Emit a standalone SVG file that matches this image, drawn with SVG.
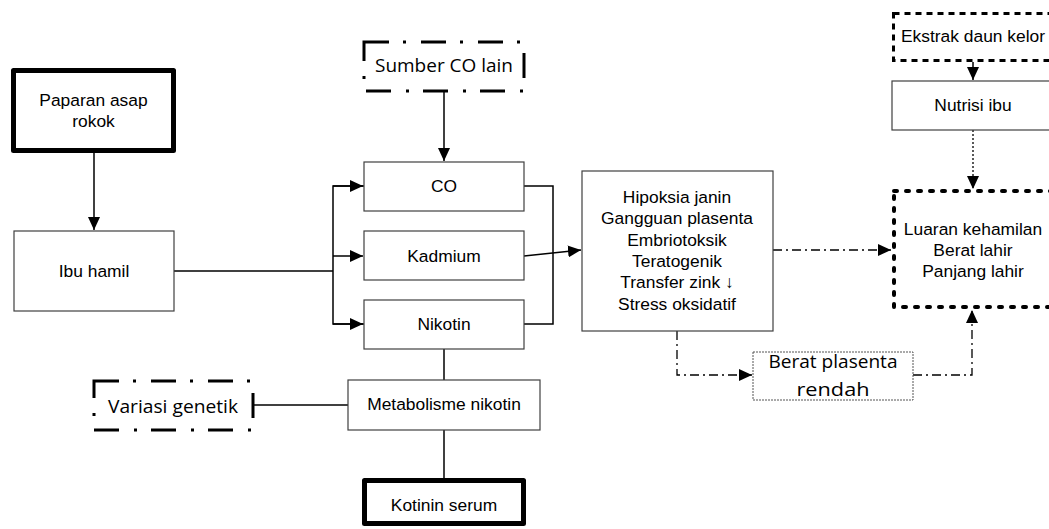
<svg xmlns="http://www.w3.org/2000/svg" width="1049" height="529" viewBox="0 0 1049 529">
<style>
.bg{fill:#fff}
.box{fill:#fff;stroke:#404040;stroke-width:1.2}
.thick{fill:#fff;stroke:#000;stroke-width:5;stroke-linejoin:round}
.dd{fill:#fff;stroke:#000;stroke-width:3;stroke-dasharray:25 14 3 15}
.dash{fill:#fff;stroke:#000;stroke-width:3;stroke-dasharray:6 5}
.dots{fill:#fff;stroke:#000;stroke-width:4;stroke-dasharray:3 9;stroke-linecap:round}
.fine{fill:#fff;stroke:#555;stroke-width:1;stroke-dasharray:2 1}
.t{font-family:"Liberation Sans",Arial,sans-serif;font-size:17.4px;fill:#000;text-anchor:middle}
.c{font-family:"Open Sans",sans-serif;font-size:19px;fill:#000;text-anchor:middle}
.ln{fill:none;stroke:#000;stroke-width:1.5}
.ldd{fill:none;stroke:#000;stroke-width:1.3;stroke-dasharray:9 4 2 4}
.ldot{fill:none;stroke:#000;stroke-width:1.3;stroke-dasharray:2 2}
</style>
<defs>
<marker id="ah" markerUnits="userSpaceOnUse" markerWidth="14" markerHeight="12" refX="13" refY="6" orient="auto">
<path d="M0,0 L13,6 L0,12 Z" fill="#000"/>
</marker>
</defs>
<rect class="bg" x="0" y="0" width="1049" height="529"/>

<g id="connectors">
<line class="ln" x1="94" y1="153" x2="94" y2="230" marker-end="url(#ah)"/>
<polyline class="ln" points="174,271 333,271"/>
<polyline class="ln" points="364,186 333,186 333,324 364,324" />
<line class="ln" x1="333" y1="186" x2="363" y2="186" marker-end="url(#ah)"/>
<line class="ln" x1="333" y1="256" x2="363" y2="256" marker-end="url(#ah)"/>
<line class="ln" x1="333" y1="324" x2="363" y2="324" marker-end="url(#ah)"/>
<polyline class="ln" points="524,186 553,186 553,324 524,324"/>
<line class="ln" x1="524" y1="256" x2="581" y2="250" marker-end="url(#ah)"/>
<line class="ln" x1="444" y1="92" x2="444" y2="161" marker-end="url(#ah)"/>
<line class="ldd" x1="773" y1="250" x2="891" y2="250" marker-end="url(#ah)"/>
<polyline class="ldd" points="677,331 677,375 752,375" marker-end="url(#ah)"/>
<polyline class="ldd" points="913,375 972,375 972,310" marker-end="url(#ah)"/>
<line class="ln" x1="973" y1="62" x2="973" y2="80" marker-end="url(#ah)"/>
<line class="ldot" x1="973" y1="130" x2="973" y2="189" marker-end="url(#ah)"/>
<line class="ln" x1="444" y1="349" x2="444" y2="380"/>
<line class="ln" x1="254" y1="405" x2="348" y2="405"/>
<line class="ln" x1="444" y1="430" x2="444" y2="478"/>
</g>

<g id="paparan">
<rect class="thick" x="13.5" y="70.5" width="160" height="80"/>
<text class="t" x="93.5" y="106">Paparan asap</text>
<text class="t" x="93.5" y="127">rokok</text>
</g>
<g id="ibu-hamil">
<rect class="box" x="14" y="231" width="160" height="80"/>
<text class="t" x="94" y="277">Ibu hamil</text>
</g>
<g id="sumber-co">
<rect class="dd" x="364" y="42" width="160" height="49"/>
<text class="c" x="444" y="72" textLength="138" lengthAdjust="spacingAndGlyphs">Sumber CO lain</text>
</g>
<g id="co">
<rect class="box" x="364" y="162" width="160" height="49"/>
<text class="t" x="444" y="192">CO</text>
</g>
<g id="kadmium">
<rect class="box" x="364" y="231" width="160" height="49"/>
<text class="t" x="444" y="262">Kadmium</text>
</g>
<g id="nikotin">
<rect class="box" x="364" y="300" width="160" height="49"/>
<text class="t" x="444" y="330">Nikotin</text>
</g>
<g id="metabolisme">
<rect class="box" x="348" y="380" width="192" height="50"/>
<text class="t" x="444" y="410">Metabolisme nikotin</text>
</g>
<g id="variasi">
<rect class="dd" x="94" y="381" width="159" height="49"/>
<text class="c" x="173" y="413" textLength="130" lengthAdjust="spacingAndGlyphs">Variasi genetik</text>
</g>
<g id="kotinin">
<rect class="thick" x="364.5" y="480.5" width="159" height="43"/>
<text class="t" x="444" y="511">Kotinin serum</text>
</g>
<g id="hipoksia">
<rect class="box" x="582" y="171" width="191" height="160"/>
<text class="t" x="677" y="203">Hipoksia janin</text>
<text class="t" x="677" y="224">Gangguan plasenta</text>
<text class="t" x="677" y="246">Embriotoksik</text>
<text class="t" x="677" y="267">Teratogenik</text>
<text class="t" x="677" y="288">Transfer zink ↓</text>
<text class="t" x="677" y="310">Stress oksidatif</text>
</g>
<g id="berat-plasenta">
<rect class="fine" x="753" y="352" width="160" height="48"/>
<text class="c" x="833" y="368" textLength="129" lengthAdjust="spacingAndGlyphs">Berat plasenta</text>
<text class="c" x="833" y="396" textLength="73" lengthAdjust="spacingAndGlyphs">rendah</text>
</g>
<g id="ekstrak">
<rect class="dash" x="893.5" y="13.5" width="170" height="47"/>
<text class="t" x="973" y="42">Ekstrak daun kelor</text>
</g>
<g id="nutrisi">
<rect class="box" x="892" y="81" width="162" height="49"/>
<text class="t" x="973" y="111">Nutrisi ibu</text>
</g>
<g id="luaran">
<rect class="dots" x="894" y="191" width="170" height="116"/>
<text class="t" x="973" y="235">Luaran kehamilan</text>
<text class="t" x="973" y="256">Berat lahir</text>
<text class="t" x="973" y="277">Panjang lahir</text>
</g>
</svg>
